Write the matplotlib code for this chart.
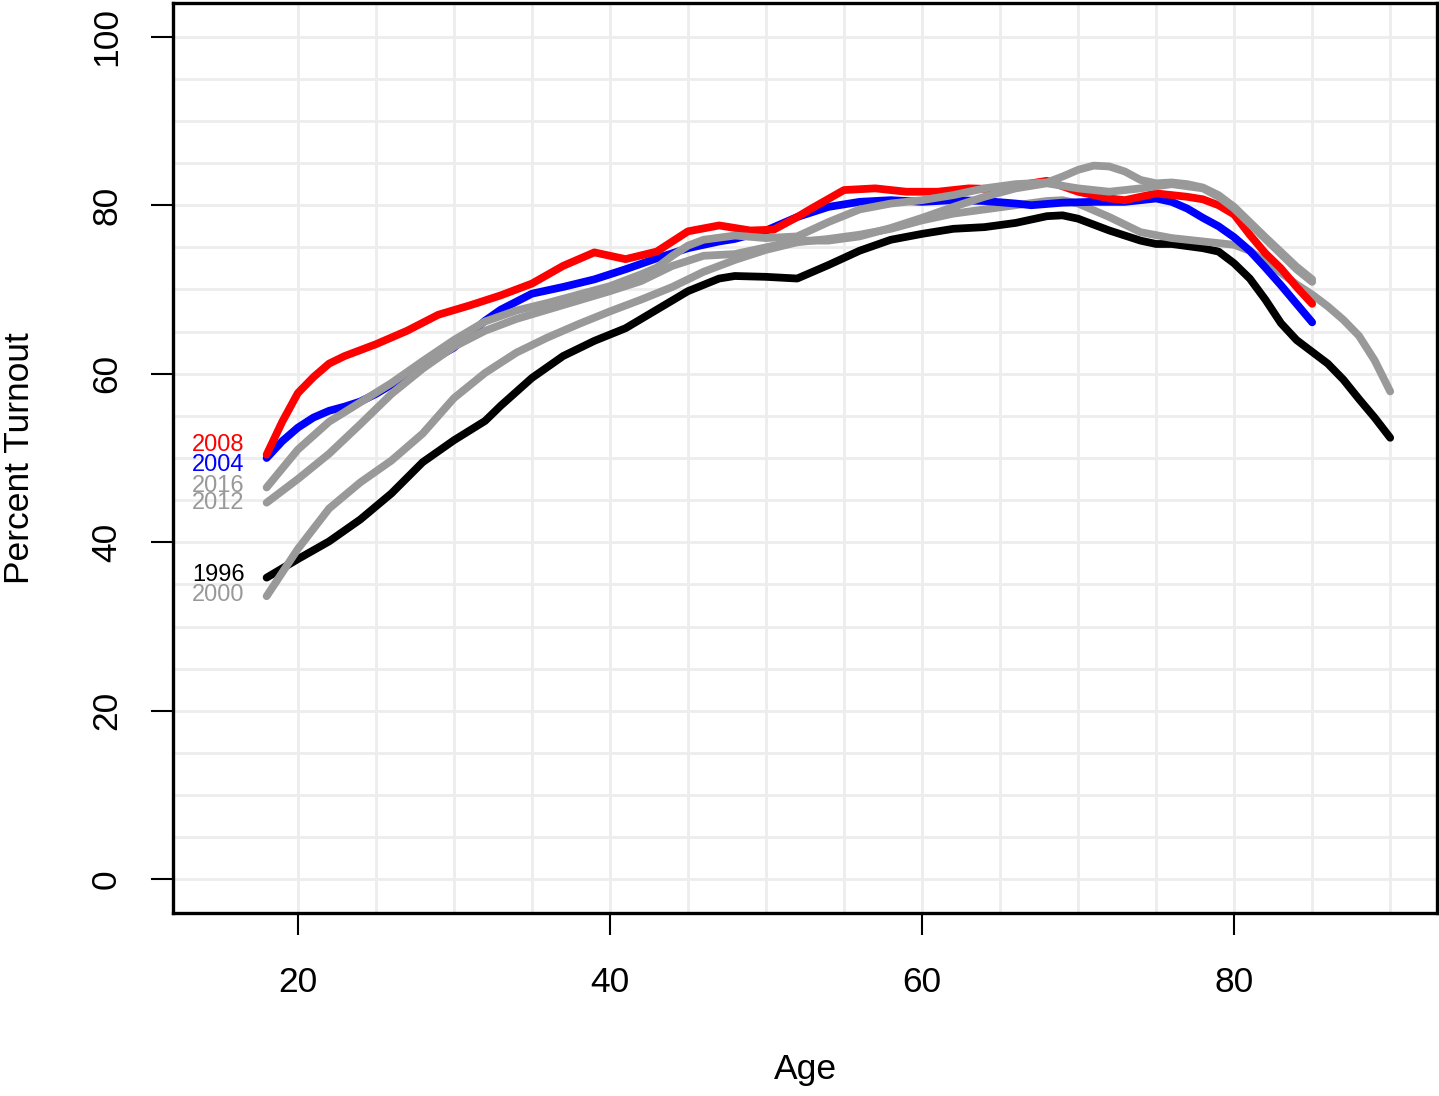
import matplotlib
matplotlib.use("Agg")
import matplotlib.pyplot as plt

plt.rcParams['font.family'] = ['Liberation Sans', 'DejaVu Sans']

# ---- data ----
age_1996 = [18, 20, 22, 24, 26, 28, 30, 32, 33, 35, 37, 39, 41, 43, 45, 47, 48, 50, 52, 54, 56, 58, 60,
            62, 64, 66, 68, 69, 70, 72, 74, 75, 76, 78, 79, 80, 81, 82, 83, 84, 85, 86, 87, 88, 89, 90]
val_1996 = [35.8, 38.0, 40.1, 42.7, 45.8, 49.5, 52.1, 54.4, 56.2, 59.5, 62.1, 63.9, 65.4, 67.6, 69.8,
            71.3, 71.6, 71.5, 71.3, 72.9, 74.6, 75.9, 76.6, 77.2, 77.4, 77.9, 78.7, 78.8, 78.4, 77.0,
            75.8, 75.4, 75.4, 74.9, 74.5, 73.1, 71.3, 68.8, 66.0, 64.0, 62.6, 61.2, 59.3, 57.0, 54.8, 52.4]

age_2000 = [18, 20, 22, 24, 26, 28, 30, 32, 34, 36, 38, 40, 42, 44, 46, 48, 50, 52, 54, 56, 58, 60, 62,
            64, 66, 68, 69, 70, 72, 74, 76, 78, 80, 81, 82, 83, 84, 85, 86, 87, 88, 89, 90]
val_2000 = [33.6, 39.2, 44.0, 47.1, 49.7, 52.9, 57.1, 60.1, 62.5, 64.3, 65.9, 67.4, 68.8, 70.3, 72.1,
            73.5, 74.7, 75.6, 76.0, 76.5, 77.2, 78.2, 79.0, 79.5, 80.0, 80.5, 80.6, 80.2, 78.6, 76.8,
            76.1, 75.7, 75.3, 74.6, 73.3, 72.0, 70.6, 69.4, 68.0, 66.4, 64.5, 61.6, 57.9]

age_2004 = [18, 19, 20, 21, 22, 23, 24, 25, 26, 28, 30, 32, 33, 35, 37, 39, 41, 43, 45, 47, 48, 50, 52,
            54, 56, 58, 60, 62, 64, 66, 67, 69, 71, 73, 75, 76, 77, 78, 79, 80, 81, 82, 83, 84, 85]
val_2004 = [50.0, 52.0, 53.6, 54.8, 55.6, 56.1, 56.7, 57.6, 58.7, 61.0, 63.1, 66.3, 67.6, 69.5, 70.3,
            71.2, 72.4, 73.7, 74.9, 75.7, 76.0, 77.0, 78.6, 79.8, 80.4, 80.6, 80.4, 80.6, 80.5, 80.2,
            80.0, 80.3, 80.4, 80.4, 80.8, 80.4, 79.6, 78.5, 77.5, 76.2, 74.6, 72.6, 70.5, 68.3, 66.1]

age_2008 = [18, 19, 20, 21, 22, 23, 24, 25, 27, 29, 31, 33, 35, 37, 39, 41, 43, 45, 47, 49, 50.5, 52,
            53, 55, 57, 59, 61, 63, 65, 67, 68, 70, 72, 73, 75, 77, 78, 79, 80, 81, 82, 83, 84, 85]
val_2008 = [50.4, 54.3, 57.7, 59.6, 61.2, 62.1, 62.8, 63.5, 65.1, 67.0, 68.1, 69.3, 70.7, 72.8, 74.4,
            73.6, 74.5, 76.9, 77.6, 77.0, 77.1, 78.6, 79.7, 81.8, 82.0, 81.6, 81.6, 82.0, 81.9, 82.6,
            82.9, 81.6, 80.8, 80.6, 81.4, 81.0, 80.7, 80.0, 78.9, 76.5, 74.3, 72.5, 70.3, 68.3]

age_2012 = [18, 20, 22, 24, 26, 28, 30, 32, 34, 36, 38, 40, 42, 44, 46, 48, 50, 52, 54, 56, 58, 60, 62,
            64, 66, 68, 70, 72, 74, 76, 78, 79, 80, 82, 84, 85]
val_2012 = [44.7, 47.5, 50.5, 54.0, 57.6, 60.6, 63.2, 65.1, 66.5, 67.6, 68.7, 69.8, 71.0, 72.8, 74.0,
            74.2, 75.0, 75.8, 75.8, 76.3, 77.3, 78.5, 79.8, 81.0, 82.0, 82.6, 82.0, 81.6, 82.0, 82.5,
            82.0, 81.0, 79.6, 76.0, 72.4, 70.9]

age_2016 = [18, 20, 22, 24, 26, 28, 30, 32, 34, 36, 38, 40, 42, 43, 44, 45, 46, 48, 50, 52, 54, 56, 58,
            60, 62, 64, 66, 68, 69, 70, 71, 72, 73, 74, 75, 76, 77, 78, 79, 80, 82, 84, 85]
val_2016 = [46.5, 51.0, 54.3, 56.6, 58.9, 61.5, 64.0, 66.2, 67.5, 68.4, 69.4, 70.4, 71.8, 72.6, 74.0,
            75.2, 75.9, 76.4, 76.1, 76.3, 78.0, 79.5, 80.2, 80.6, 81.2, 82.0, 82.5, 82.7, 83.4, 84.2,
            84.7, 84.6, 84.0, 83.0, 82.6, 82.7, 82.5, 82.1, 81.2, 79.8, 76.2, 72.7, 71.2]

years = ["1996", "2000", "2004", "2008", "2012", "2016"]
label_y = [36.1, 33.8, 49.2, 51.6, 44.7, 46.7]

x_ticks = [20, 40, 60, 80]
y_ticks = [0, 20, 40, 60, 80, 100]

# ---- styling ----
GRAY = "#999999"
series = [
    (age_1996, val_1996, "black"),
    (age_2000, val_2000, GRAY),
    (age_2004, val_2004, "#0000FF"),
    (age_2008, val_2008, "#FF0000"),
    (age_2012, val_2012, GRAY),
    (age_2016, val_2016, GRAY),
]

fig = plt.figure(figsize=(14.39, 10.96), dpi=100)
ax = fig.add_axes([173 / 1439, 1 - 913 / 1096, (1437 - 173) / 1439, (913 - 3) / 1096])
ax.set_xlim(12, 93)
ax.set_ylim(-4, 104)

# grid
for gx in range(20, 91, 5):
    ax.axvline(gx, color="#EDEDED", lw=2.0, zorder=0)
for gy in range(0, 101, 5):
    ax.axhline(gy, color="#EDEDED", lw=2.0, zorder=0)

for (a, v, c), yr, ly in zip(series, years, label_y):
    ax.plot(a, v, color=c, lw=5.6, solid_capstyle="round", solid_joinstyle="round", zorder=2)
    ax.text(16.6, ly, yr, color=c, ha="right", va="center", fontsize=17, zorder=3)

for s in ax.spines.values():
    s.set_linewidth(2.4)
    s.set_color("black")

ax.set_xticks(x_ticks)
ax.set_yticks(y_ticks)
ax.set_xticklabels([str(t) for t in x_ticks])
ax.set_yticklabels([str(t) for t in y_ticks], rotation=90, va="center")
ax.tick_params(axis="both", direction="out", length=16, width=1.5, labelsize=25.5, colors="black")
ax.tick_params(axis="x", pad=22)
ax.tick_params(axis="y", pad=20)

fig.text((173 + 1437) / 2 / 1439, 1 - 1070 / 1096, "Age", ha="center", va="center", fontsize=25.5)
fig.text(20 / 1439, 1 - 458 / 1096, "Percent Turnout", ha="center", va="center", rotation=90, fontsize=25.5)

fig.savefig("out.png", dpi=100)
